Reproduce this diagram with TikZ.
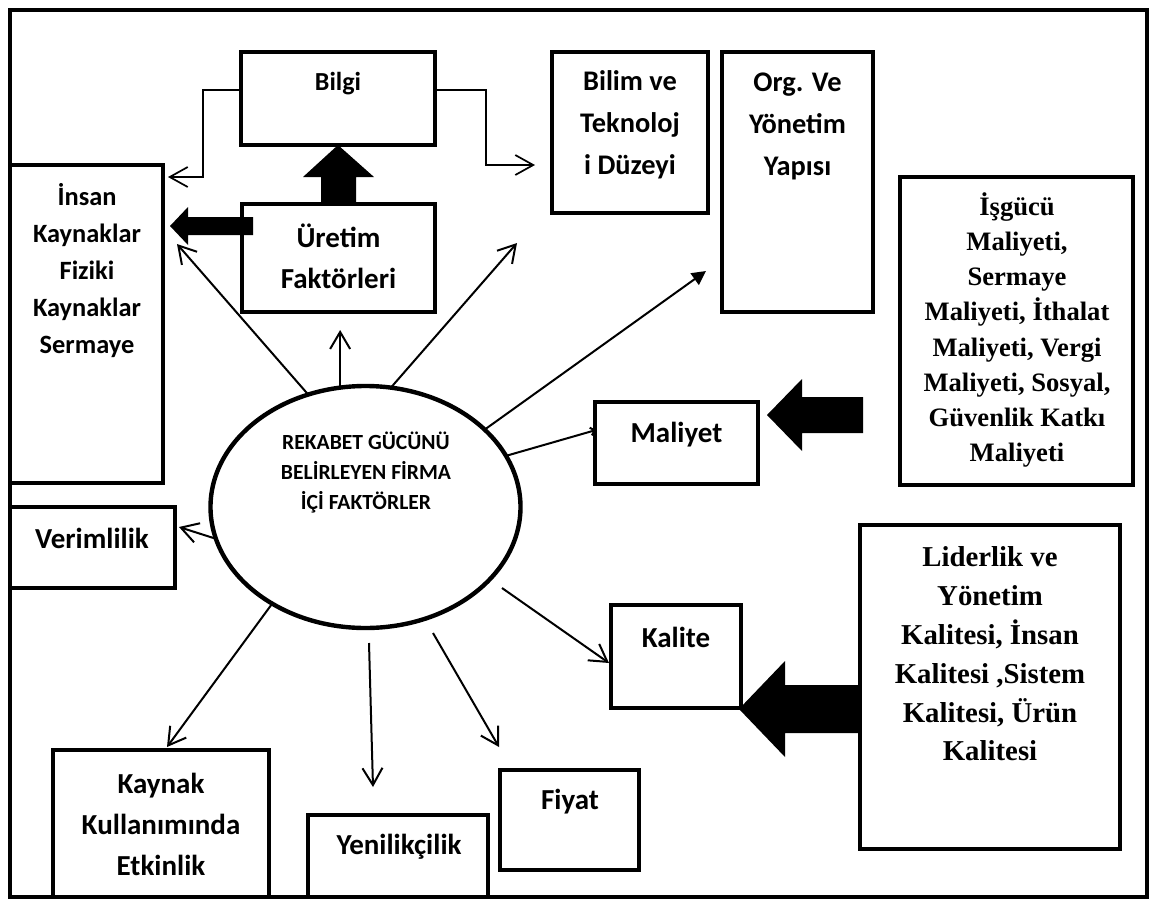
\documentclass[tikz,border=0pt]{standalone}
\usepackage{fontspec}
\setmainfont{Liberation Serif}
\newfontfamily\calfont{Carlito}
\usetikzlibrary{shapes.geometric,arrows.meta,calc}

\begin{document}
\begin{tikzpicture}[x=0.5pt,y=-0.5pt,
  box/.style={draw, line width=2.2pt, inner sep=0pt, outer sep=0pt},
  oval/.style={ellipse, draw, line width=2.2pt, inner sep=0pt, outer sep=0pt},
  lbl/.style={inner sep=0pt, align=center, font=\calfont\bfseries\fontsize{14.5}{20.5}\selectfont},
  lblmid/.style={inner sep=0pt, align=center, font=\calfont\bfseries\fontsize{14.2}{21}\selectfont},
  lblsmall/.style={inner sep=0pt, align=center, font=\calfont\bfseries\fontsize{13.2}{18.5}\selectfont},
  lbloval/.style={inner sep=0pt, align=center, font=\calfont\bfseries\fontsize{10.8}{15}\selectfont},
  serifa/.style={inner sep=0pt, align=center, font=\bfseries\fontsize{13.3}{17.6}\selectfont},
  serifb/.style={inner sep=0pt, align=center, font=\bfseries\fontsize{14.4}{19.4}\selectfont},
  ray/.style={line width=1pt, -{Straight Barb[length=8.5pt,width=10pt,line width=1pt]}},
  link/.style={line width=0.85pt, -{Straight Barb[length=9pt,width=10pt,line width=0.85pt]}},
  block/.style={fill=black}
]
\useasboundingbox (0,0) rectangle (1152,900);

% outer frame
\draw[line width=2pt] (10,10) rectangle (1147,897);

% boxes
\node[box, minimum width=97pt, minimum height=46.5pt] (bilgi) at (338,98.5) {};
\node[box, minimum width=96.5pt, minimum height=54pt] (uretim) at (338.5,258) {};
\node[box, minimum width=78pt, minimum height=80.5pt] (bilim) at (630,132.5) {};
\node[box, minimum width=75.5pt, minimum height=130pt] (org) at (797.5,182) {};
\node[box, minimum width=76.5pt, minimum height=159pt] (insan) at (86.5,324) {};
\node[box, minimum width=116.5pt, minimum height=154pt] (isgucu) at (1016.5,331) {};
\node[box, minimum width=81.5pt, minimum height=41pt] (maliyet) at (676.5,443) {};
\node[box, minimum width=82.5pt, minimum height=40.5pt] (verim) at (92.5,547.5) {};
\node[box, minimum width=65pt, minimum height=51.5pt] (kalite) at (676,656.5) {};
\node[box, minimum width=130pt, minimum height=162pt] (lider) at (990,687) {};
\node[box, minimum width=108pt, minimum height=73.5pt] (kaynak) at (161,823.5) {};
\node[box, minimum width=90pt, minimum height=41pt] (yenilik) at (398,856) {};
\node[box, minimum width=69.5pt, minimum height=50pt] (fiyat) at (569.5,820) {};
\node[oval, minimum width=155pt, minimum height=121pt] (firma) at (365.5,507) {};

% texts
\node[lblsmall, font=\calfont\bfseries\fontsize{13}{18}\selectfont] (bilgi-t) at (338,84) {Bilgi};
\node[lbl] (uretim-t) at (338.5,256.5) {Üretim\\Faktörleri};
\node[lblmid] (bilim-t) at (630,125) {Bilim ve\\Teknoloj\\i Düzeyi};
\node[lblmid] (org-t) at (797.5,126) {Org. Ve\\Yönetim\\Yapısı};
\node[lblsmall] (insan-t) at (87,271) {İnsan\\Kaynaklar\\Fiziki\\Kaynaklar\\Sermaye};
\node[lbloval] (firma-t) at (366,473) {REKABET GÜCÜNÜ\\BELİRLEYEN FİRMA\\İÇİ FAKTÖRLER};
\node[lbl] (verim-t) at (92,538) {Verimlilik};
\node[lbl] (maliyet-t) at (676.5,435) {Maliyet};
\node[lbl] (kalite-t) at (676,637) {Kalite};
\node[lbl] (kaynak-t) at (161,824) {Kaynak\\Kullanımında\\Etkinlik};
\node[lbl] (yenilik-t) at (399,847) {Yenilikçilik};
\node[lbl] (fiyat-t) at (570,802) {Fiyat};
\node[serifa] (isgucu-t) at (1017,330) {İşgücü\\Maliyeti,\\Sermaye\\Maliyeti, İthalat\\Maliyeti, Vergi\\Maliyeti, Sosyal,\\Güvenlik Katkı\\Maliyeti};
\node[serifb] (lider-t) at (990,654) {Liderlik ve\\Yönetim\\Kalitesi, İnsan\\Kalitesi ,Sistem\\Kalitesi, Ürün\\Kalitesi};

% free ends of the connectors
\coordinate (bL) at (203,177);
\coordinate (bLtip) at (168,177);
\coordinate (bR) at (486,165);
\coordinate (bRtip) at (535,165);
\coordinate (tInsan) at (177,244);
\coordinate (tUp) at (338,330);
\coordinate (tBilim) at (517,243);
\coordinate (tOrg) at (706,271);
\coordinate (tMal) at (596,430);
\coordinate (sKal) at (502,588);
\coordinate (tKal) at (609,663);
\coordinate (sFiy) at (433,633);
\coordinate (tFiy) at (499,747);
\coordinate (sYen) at (369,643);
\coordinate (tYen) at (373,787);
\coordinate (tKay) at (167,747);
\coordinate (tVer) at (179,527);

% Bilgi links
\draw[link] ($(bilgi.west)+(0,-8.5)$) -| (bL) -- (bLtip);
\draw[link] ($(bilgi.east)+(0,-8.5)$) -| (bR) -- (bRtip);

% rays from the central oval
\draw[ray] (firma.117) -- (tInsan);
\draw[ray] (firma.102.5) -- (firma.102.5 |- tUp);
\draw[ray] (firma.78.8) -- (tBilim);
\draw[line width=1pt, -{Triangle[length=7pt,width=7pt]}] (firma.33.7) -- (tOrg);
\draw[line width=1pt, -{Straight Barb[length=2pt,width=4pt]}] (firma.20.3) -- (tMal);
\draw[ray] (sKal) -- (tKal);
\draw[ray] (sFiy) -- (tFiy);
\draw[ray] (sYen) -- (tYen);
\draw[ray] (firma.-134.3) -- (tKay);
\draw[ray] (firma.-168.9) -- (tVer);

% block arrows
\fill[block] ($(uretim.north)+(-17.5,0)$) -- ($(uretim.north)+(-17.5,-27)$)
  -- ($(uretim.north)+(-35.5,-27)$) -- (bilgi.south)
  -- ($(uretim.north)+(35.5,-27)$) -- ($(uretim.north)+(17.5,-27)$)
  -- ($(uretim.north)+(17.5,0)$) -- cycle;
\fill[block] ($(uretim.west)+(11,-41)$) -- ($(uretim.west)+(-54,-41)$)
  -- ($(uretim.west)+(-54,-51)$) -- ($(uretim.west)+(-72,-32)$)
  -- ($(uretim.west)+(-54,-13)$) -- ($(uretim.west)+(-54,-23)$)
  -- ($(uretim.west)+(11,-23)$) -- cycle;
\fill[block] ($(maliyet.east)+(105,-46)$) -- ($(maliyet.east)+(44,-46)$)
  -- ($(maliyet.east)+(44,-64)$) -- ($(maliyet.east)+(9,-28)$)
  -- ($(maliyet.east)+(44,8)$) -- ($(maliyet.east)+(44,-10)$)
  -- ($(maliyet.east)+(105,-10)$) -- cycle;
\fill[block] ($(lider.west |- kalite.east)+(0,28.5)$) -- ($(kalite.east)+(44,28.5)$)
  -- ($(kalite.east)+(44,4.5)$) -- ($(kalite.east)+(-2,52.5)$)
  -- ($(kalite.east)+(44,100.5)$) -- ($(kalite.east)+(44,76.5)$)
  -- ($(lider.west |- kalite.east)+(0,76.5)$) -- cycle;
\end{tikzpicture}
\end{document}
